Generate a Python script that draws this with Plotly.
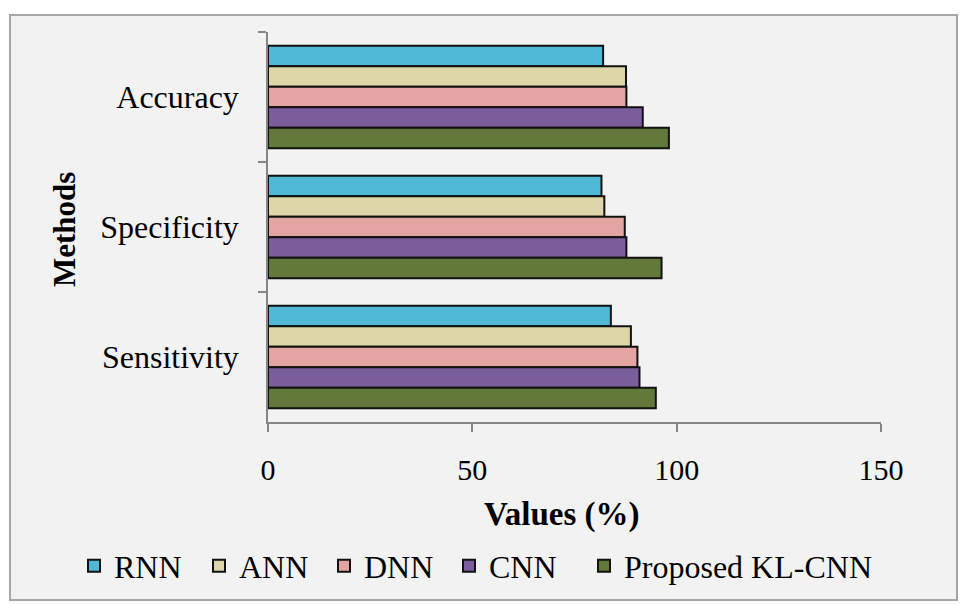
import plotly.graph_objects as go

categories = ["Accuracy", "Specificity", "Sensitivity"]
series_names = ["RNN", "ANN", "DNN", "CNN", "Proposed KL-CNN"]
rnn = [82.0, 81.6, 83.9]
ann = [87.6, 82.3, 88.8]
dnn = [87.7, 87.3, 90.4]
cnn = [91.7, 87.7, 90.9]
klcnn = [98.1, 96.3, 94.9]
series_values = [rnn, ann, dnn, cnn, klcnn]
colors = ["#4fb8d4", "#dcd6a8", "#e3a4a2", "#7a5e9c", "#62793b"]
x_ticks = [0, 50, 100, 150]

FONT = "Liberation Serif"

W, H = 963, 605
L, R, T, B = 268, 82, 32, 183
pw, ph = W - L - R, H - T - B

def px_x(p):
    return (p - L) / pw

def px_y(p):
    return (H - B - p) / ph

fig = go.Figure()
for i, (name, vals, col) in enumerate(zip(series_names, series_values, colors)):
    fig.add_trace(go.Bar(
        y=categories, x=vals, name=name, orientation="h",
        marker=dict(color=col, line=dict(color="#111111", width=2)),
        legend="legend2" if i == len(series_names) - 1 else "legend",
    ))

legend_common = dict(
    orientation="h", y=px_y(566), yanchor="middle",
    font=dict(family=FONT, size=32, color="#000000"),
    bgcolor="rgba(0,0,0,0)", itemwidth=30, tracegroupgap=0,
)

fig.update_layout(
    width=W, height=H,
    margin=dict(l=L, r=R, t=T, b=B, autoexpand=False),
    paper_bgcolor="white",
    plot_bgcolor="rgba(0,0,0,0)",
    barmode="group",
    bargap=0.21,
    bargroupgap=0.0,
    font=dict(family=FONT, size=30, color="#000000"),
    showlegend=True,
    legend=dict(x=px_x(74), xanchor="left", entrywidth=80,
                entrywidthmode="pixels", **legend_common),
    legend2=dict(x=px_x(584), xanchor="left", **legend_common),
    xaxis=dict(
        range=[0, 150], tickvals=x_ticks, ticktext=[str(v) for v in x_ticks],
        showgrid=False, zeroline=False, showline=True,
        linecolor="#868686", linewidth=1.5,
        ticks="outside", ticklen=8, tickcolor="#868686", tickwidth=1.5,
        ticklabelstandoff=12,
        tickfont=dict(family=FONT, size=30),
    ),
    yaxis=dict(
        categoryorder="array", categoryarray=categories,
        autorange="reversed",
        showgrid=False, zeroline=False, showline=True,
        linecolor="#868686", linewidth=1.5,
        ticks="outside", ticklen=8, tickcolor="#868686", tickwidth=1.5,
        tickson="boundaries", ticklabelstandoff=21,
        tickfont=dict(family=FONT, size=32),
    ),
    shapes=[dict(
        type="rect", xref="paper", yref="paper", layer="below",
        x0=px_x(10), x1=px_x(957), y0=px_y(600), y1=px_y(15),
        line=dict(color="#a6a6a6", width=2), fillcolor="#f2f2f2",
    )],
    annotations=[
        dict(text="<b>Methods</b>", xref="paper", yref="paper",
             x=px_x(64), y=px_y(230), textangle=-90, showarrow=False,
             xanchor="center", yanchor="middle",
             font=dict(family=FONT, size=31)),
        dict(text="<b>Values (%)</b>", xref="paper", yref="paper",
             x=px_x(562), y=px_y(514), showarrow=False,
             xanchor="center", yanchor="middle",
             font=dict(family=FONT, size=33)),
    ],
)

fig.write_html("out.html")
